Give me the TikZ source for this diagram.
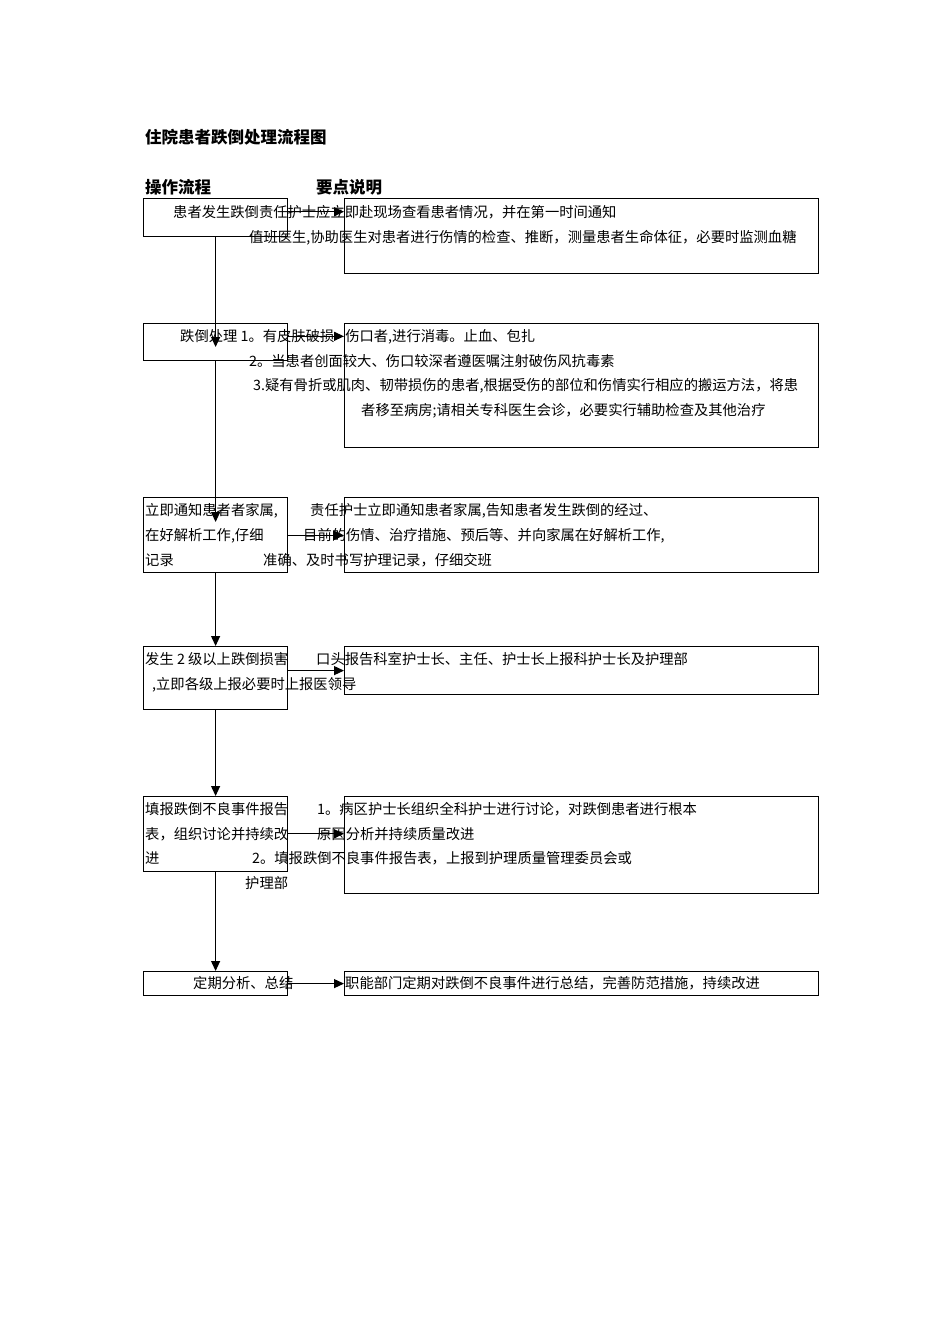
\documentclass[tikz,border=0pt]{standalone}
\usepackage{fontspec}
\setmainfont{Noto Sans CJK SC}
\usepackage{tikz}
\usetikzlibrary{arrows.meta, positioning}

\tikzset{
	box/.style={draw, line width=1.2pt, rectangle, inner sep=0pt, anchor=north west},
	note/.style={anchor=base west, inner sep=0pt, yshift=-5pt, font=\fontsize{14.3}{17}\selectfont},
	heading/.style={anchor=base west, inner sep=0pt, yshift=-6pt, font=\fontsize{16.5}{19}\selectfont\bfseries},
	arrowline/.style={line width=1.2pt, -{Triangle[length=10pt, width=9pt]}},
}

\begin{document}
\begin{tikzpicture}[x=1pt, y=-1pt]

\fill[white] (0,0) rectangle (950,1344);
\useasboundingbox (0,0) rectangle (950,1344);

% headings
\node[heading] (title) at (145,137) {住院患者跌倒处理流程图};
\node[heading] (head left) at (145,187) {操作流程};
\node[heading] (head right) at (316,187) {要点说明};

% boxes: name / left / top / width / height
\foreach \n/\x/\y/\w/\h in {
	l1/143/198/144/38, r1/344/198/474/75,
	l2/143/323/144/37, r2/344/323/474/124,
	l3/143/497/144/75, r3/344/497/474/75,
	l4/143/646/144/63, r4/344/646/474/48,
	l5/143/796/144/75, r5/344/796/474/97,
	l6/143/971/144/24, r6/344/971/474/24} {
	\node[box, minimum width=\w pt, minimum height=\h pt] (\n) at (\x,\y) {};
}

% texts: name / left / middle of line / text
\foreach \n/\x/\y/\s in {
	t11/173/212/{患者发生跌倒责任护士应立即赴现场查看患者情况，并在第一时间通知},
	t12/249/237/{值班医生,协助医生对患者进行伤情的检查、推断，测量患者生命体征，必要时监测血糖},
	t21/180/336/{跌倒处理 1。有皮肤破损\hspace{11pt}伤口者,进行消毒。止血、包扎},
	t22/249/361/{2。当患者创面较大、伤口较深者遵医嘱注射破伤风抗毒素},
	t23/253/385/{3.疑有骨折或肌肉、韧带损伤的患者,根据受伤的部位和伤情实行相应的搬运方法，将患},
	t24/361/410/{者移至病房;请相关专科医生会诊，必要实行辅助检查及其他治疗},
	t31/145/510/{立即通知患者者家属,},
	t32/145/535/{在好解析工作,仔细},
	t33/145/560/{记录},
	t34/310/510/{责任护士立即通知患者家属,告知患者发生跌倒的经过、},
	t35/303/535/{目前的伤情、治疗措施、预后等、并向家属在好解析工作,},
	t36/263/560/{准确、及时书写护理记录，仔细交班},
	t41/145/659/{发生 2 级以上跌倒损害},
	t42/152/684/{,立即各级上报必要时上报医领导},
	t43/316/659/{口头报告科室护士长、主任、护士长上报科护士长及护理部},
	t51/145/809/{填报跌倒不良事件报告},
	t52/145/834/{表，组织讨论并持续改},
	t53/145/858/{进},
	t54/317/809/{1。病区护士长组织全科护士进行讨论，对跌倒患者进行根本},
	t55/317/834/{原因分析并持续质量改进},
	t56/252/858/{2。填报跌倒不良事件报告表，上报到护理质量管理委员会或},
	t57/245/883/{护理部},
	t61/193/983/{定期分析、总结},
	t62/345/983/{职能部门定期对跌倒不良事件进行总结，完善防范措施，持续改进}} {
	\node[note] (\n) at (\x,\y) {\s};
}

% flow down the left column
\draw[arrowline] (l1.south) -- ([yshift=-24pt]l2.north);
\draw[arrowline] (l2.south) -- ([yshift=-25pt]l3.north);
\draw[arrowline] (l3.south) -- (l4.north);
\draw[arrowline] (l4.south) -- (l5.north);
\draw[arrowline] (l5.south) -- (l6.north);

% from each step to its notes
\draw[arrowline] (l1.east |- t11) -- (r1.west |- t11);
\draw[arrowline] (l2.east |- t21) -- (r2.west |- t21);
\draw[arrowline] (l3.east |- t32) -- (r3.west |- t32);
\draw[arrowline] (l4.east |- r4.west) -- (r4.west);
\draw[arrowline] (l5.east |- t52) -- (r5.west |- t52);
\draw[arrowline] (l6.east) -- (r6.west);

\end{tikzpicture}
\end{document}
